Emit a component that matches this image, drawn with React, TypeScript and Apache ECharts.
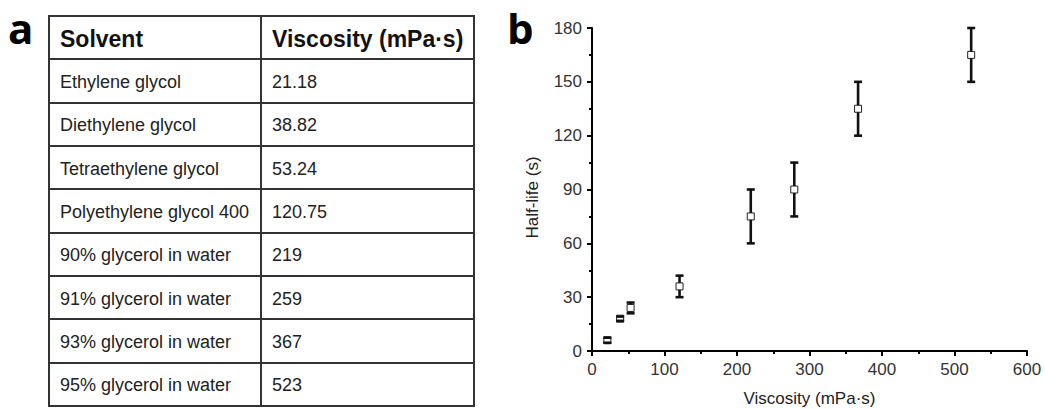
import React, { useEffect, useRef } from "react";
import * as echarts from "echarts";

// ---- Table (panel a) ----
const tableHeaders = ["Solvent", "Viscosity (mPa·s)"];
const solvents = [
  "Ethylene glycol",
  "Diethylene glycol",
  "Tetraethylene glycol",
  "Polyethylene glycol 400",
  "90% glycerol in water",
  "91% glycerol in water",
  "93% glycerol in water",
  "95% glycerol in water",
];
const viscosityText = ["21.18", "38.82", "53.24", "120.75", "219", "259", "367", "523"];

// ---- Plot (panel b) ----
const pointViscosity = [21.18, 38.82, 53.24, 120.75, 219, 279, 367, 523];
const halfLife = [6, 18, 24, 36, 75, 90, 135, 165];
const halfLifeErr = [1.4, 1.2, 3, 6, 15, 15, 15, 15];

const FONT = "Liberation Sans";
const LETTER_FONT = "Open Sans";

export default function App() {
  const ref = useRef<HTMLDivElement>(null);

  useEffect(() => {
    if (!ref.current) return;
    const chart = echarts.init(ref.current, undefined, { renderer: "svg" });

    // table geometry
    const tL = 49, tR = 474, tT = 16, tB = 406, colX = 261;
    const nRows = solvents.length + 1;
    const rowH = (tB - tT) / nRows;
    const graphics: any[] = [];
    graphics.push({
      type: "rect",
      shape: { x: tL, y: tT, width: tR - tL, height: tB - tT },
      style: { fill: "#fff", stroke: "#333", lineWidth: 2 },
      silent: true,
    });
    for (let i = 1; i < nRows; i++) {
      const y = Math.round(tT + i * rowH);
      graphics.push({
        type: "line",
        shape: { x1: tL, y1: y, x2: tR, y2: y },
        style: { stroke: "#333", lineWidth: 2 },
        silent: true,
      });
    }
    graphics.push({
      type: "line",
      shape: { x1: colX, y1: tT, x2: colX, y2: tB },
      style: { stroke: "#333", lineWidth: 2 },
      silent: true,
    });
    tableHeaders.forEach((h, j) => {
      graphics.push({
        type: "text",
        x: j === 0 ? 60 : 272,
        y: tT + rowH / 2 + 1,
        style: {
          text: h,
          fontFamily: FONT,
          fontWeight: "bold",
          fontSize: 23,
          fill: "#111",
          verticalAlign: "middle",
          align: "left",
        },
      });
    });
    solvents.forEach((s, i) => {
      const cy = tT + (i + 1.5) * rowH + 1;
      graphics.push({
        type: "text",
        x: 60,
        y: cy,
        style: { text: s, fontFamily: FONT, fontSize: 18, fill: "#222", verticalAlign: "middle", align: "left" },
      });
      graphics.push({
        type: "text",
        x: 272,
        y: cy,
        style: { text: viscosityText[i], fontFamily: FONT, fontSize: 18, fill: "#222", verticalAlign: "middle", align: "left" },
      });
    });
    // panel letters
    graphics.push({
      type: "text",
      x: 8,
      y: 27,
      style: { text: "a", fontFamily: LETTER_FONT, fontWeight: "bold", fontSize: 42, fill: "#000", verticalAlign: "middle" },
    });
    graphics.push({
      type: "text",
      x: 507,
      y: 27,
      style: { text: "b", fontFamily: LETTER_FONT, fontWeight: "bold", fontSize: 42, fill: "#000", verticalAlign: "middle" },
    });

    const errData = pointViscosity.map((x, i) => [x, halfLife[i] - halfLifeErr[i], halfLife[i] + halfLifeErr[i], halfLife[i]]);
    const ptData = pointViscosity.map((x, i) => [x, halfLife[i]]);

    const axisCommon = {
      axisLine: { show: true, lineStyle: { color: "#000", width: 2 } },
      axisTick: { show: true, inside: false, length: 5, lineStyle: { color: "#000", width: 2 } },
      minorTick: { show: true, splitNumber: 2, length: 3, lineStyle: { color: "#000", width: 2 } },
      splitLine: { show: false },
      minorSplitLine: { show: false },
      axisLabel: { fontFamily: FONT, fontSize: 17, color: "#333", margin: 10 },
    };

    chart.setOption({
      animation: false,
      backgroundColor: "#fff",
      grid: { left: 592, right: 18, top: 28, bottom: 58, containLabel: false, outerBoundsMode: "none" },
      xAxis: {
        type: "value",
        min: 0,
        max: 600,
        interval: 100,
        name: "Viscosity (mPa·s)",
        nameLocation: "middle",
        nameGap: 39,
        nameTextStyle: { fontFamily: FONT, fontSize: 17, color: "#222" },
        ...axisCommon,
      },
      yAxis: {
        type: "value",
        min: 0,
        max: 180,
        interval: 30,
        name: "Half-life (s)",
        nameLocation: "middle",
        nameRotate: 90,
        nameGap: 51,
        nameTextStyle: { fontFamily: FONT, fontSize: 17, color: "#222", padding: [0, 16, 0, 0] },
        ...axisCommon,
      },
      graphic: { elements: graphics },
      series: [
        {
          type: "scatter",
          data: ptData,
          symbol: "rect",
          symbolSize: 7,
          z: 2,
          itemStyle: { color: "#fff", borderColor: "#222", borderWidth: 1, opacity: 1 },
        },
        {
          type: "custom",
          data: errData,
          encode: { x: 0, y: [1, 2] },
          z: 3,
          renderItem: (params: any, api: any) => {
            const x = api.value(0);
            const lo = api.coord([x, api.value(1)]);
            const hi = api.coord([x, api.value(2)]);
            const c = api.coord([x, api.value(3)]);
            const hw = 4;
            const gap = 3.5;
            const st = { stroke: "#111", lineWidth: 2.6 };
            const children: any[] = [
              { type: "line", shape: { x1: lo[0] - hw, y1: lo[1], x2: lo[0] + hw, y2: lo[1] }, style: st },
              { type: "line", shape: { x1: hi[0] - hw, y1: hi[1], x2: hi[0] + hw, y2: hi[1] }, style: st },
            ];
            if (lo[1] > c[1] + gap) {
              children.push({ type: "line", shape: { x1: lo[0], y1: lo[1], x2: lo[0], y2: c[1] + gap }, style: st });
            }
            if (hi[1] < c[1] - gap) {
              children.push({ type: "line", shape: { x1: hi[0], y1: hi[1], x2: hi[0], y2: c[1] - gap }, style: st });
            }
            return { type: "group", children };
          },
        },
      ],
    });

    return () => chart.dispose();
  }, []);

  return (
    <div
      ref={ref}
      style={{ position: "absolute", left: 0, top: 0, width: 1045, height: 409, background: "#fff" }}
    />
  );
}
